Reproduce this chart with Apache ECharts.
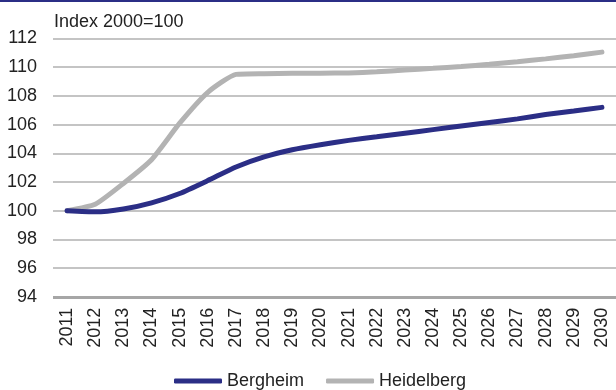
<!DOCTYPE html>
<html><head><meta charset="utf-8">
<script src="https://cdn.jsdelivr.net/npm/echarts@6/dist/echarts.min.js"></script>
<style>html,body{margin:0;padding:0;background:#fff}#c{width:616px;height:390px}</style>
</head><body><div id="c"></div>
<script>
const years = ['2011','2012','2013','2014','2015','2016','2017','2018','2019','2020','2021','2022','2023','2024','2025','2026','2027','2028','2029','2030'];
const bergheim = [100, 99.92, 100.12, 100.55, 101.2, 102.1, 103.05, 103.75, 104.25, 104.6, 104.9, 105.15, 105.4, 105.65, 105.9, 106.15, 106.4, 106.7, 106.95, 107.2];
const heidelberg = [100, 100.45, 101.9, 103.55, 106.1, 108.25, 109.5, 109.55, 109.57, 109.58, 109.6, 109.68, 109.8, 109.92, 110.05, 110.2, 110.38, 110.58, 110.8, 111.05];
const yTicks = {min: 94, max: 112, interval: 2};
const title = 'Index 2000=100';
const font = 'Liberation Sans, Arial, sans-serif';
const chart = echarts.init(document.getElementById('c'));
chart.setOption({
  animation: false,
  backgroundColor: '#fff',
  graphic: [{type: 'rect', shape: {x: 0, y: 0, width: 616, height: 2}, style: {fill: '#2b2e86'}}],
  title: {text: title, left: 49, top: 8, textStyle: {fontFamily: font, fontSize: 18, fontWeight: 'normal', color: '#222'}},
  grid: {left: 53, right: 0, top: 38.5, bottom: 93.2, containLabel: false},
  legend: {
    bottom: -5, left: 169, itemWidth: 48, itemHeight: 5, itemGap: 22, icon: 'roundRect',
    textStyle: {fontFamily: font, fontSize: 18, color: '#222'},
    data: ['Bergheim', 'Heidelberg']
  },
  xAxis: {
    type: 'category', data: years, boundaryGap: true,
    axisLine: {show: false}, axisTick: {show: false},
    axisLabel: {rotate: 90, margin: 11, fontFamily: font, fontSize: 18, color: '#222', interval: 0}
  },
  yAxis: {
    type: 'value', min: yTicks.min, max: yTicks.max, interval: yTicks.interval,
    axisLine: {show: false}, axisTick: {show: false},
    axisLabel: {margin: 16, fontFamily: font, fontSize: 18, color: '#222'},
    splitLine: {lineStyle: {color: '#b0b0b0', width: 1.5}}
  },
  series: [
    {name: 'Bergheim', type: 'line', data: bergheim, smooth: 0.18, symbol: 'none',
     lineStyle: {color: '#2b2e86', width: 5, cap: 'round'}, itemStyle: {color: '#2b2e86'}, z: 3},
    {name: 'Heidelberg', type: 'line', data: heidelberg, smooth: 0.18, symbol: 'none',
     lineStyle: {color: '#b3b3b3', width: 5, cap: 'round'}, itemStyle: {color: '#b3b3b3'}, z: 2,
     markLine: {silent: true, symbol: 'none', label: {show: false},
       lineStyle: {color: '#a6a6a6', width: 3, type: 'solid'}, data: [{yAxis: yTicks.min}]}}
  ]
});
</script></body></html>
